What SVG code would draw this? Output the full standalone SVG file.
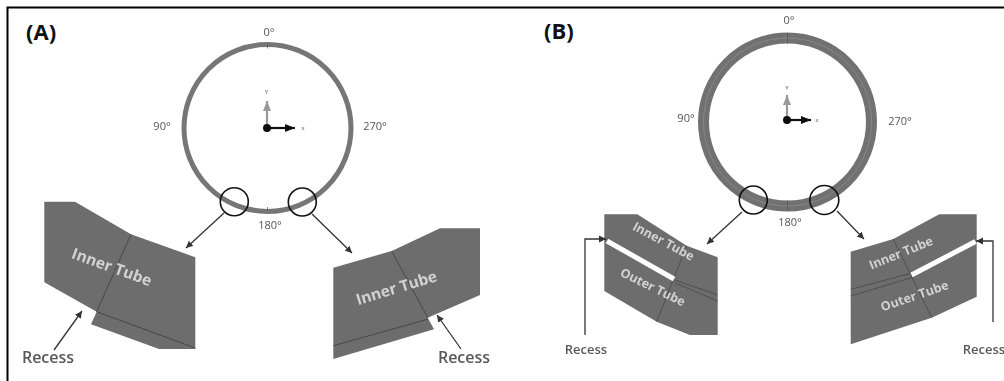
<svg xmlns="http://www.w3.org/2000/svg" width="1004" height="381" viewBox="0 0 1004 381">
<style>
.t{font-family:"Open Sans","Liberation Sans",sans-serif;fill:#555}
.d{font-size:11px;text-anchor:middle}
.r{font-family:"Open Sans","Liberation Sans",sans-serif;font-weight:600;text-anchor:middle;fill:#585858}
.h{font-family:"Open Sans","Liberation Sans",sans-serif;font-size:22px;font-weight:700;fill:#111}
.w{font-family:"Open Sans","Liberation Sans",sans-serif;font-weight:700;fill:#d2d2d2;text-anchor:middle}
.p{fill:#6d6d6d}
.l{stroke:#484848;stroke-width:1;fill:none}
.c{fill:none;stroke:#111;stroke-width:1.6}
.a{stroke:#333;stroke-width:1.3;fill:none}
.sl{stroke:#fff;stroke-width:5;fill:none}
.b{filter:url(#soft)}
</style>
<defs>
<filter id="soft" x="-5%" y="-5%" width="110%" height="110%"><feGaussianBlur stdDeviation="0.45"/></filter>
<marker id="ah" markerUnits="userSpaceOnUse" markerWidth="8" markerHeight="8" refX="7" refY="4" orient="auto"><path d="M0,0.5 L7,4 L0,7.5 Z" fill="#333"/></marker>
<marker id="ax" markerUnits="userSpaceOnUse" markerWidth="11" markerHeight="10" refX="10" refY="5" orient="auto"><path d="M0,1 L10,5 L0,9 Z" fill="#111"/></marker>
<marker id="ay" markerUnits="userSpaceOnUse" markerWidth="11" markerHeight="10" refX="10" refY="5" orient="auto"><path d="M0,1 L10,5 L0,9 Z" fill="#999"/></marker>
</defs>
<rect width="1004" height="381" fill="#fff"/>
<path d="M7.5,381 V7.5 H1004" fill="none" stroke="#000" stroke-width="2"/>
<text class="h" x="26" y="40">(A)</text>
<text class="h" x="544" y="39">(B)</text>
<g id="ring-a" class="b">
<circle cx="267.5" cy="128" r="83.5" fill="none" stroke="#767676" stroke-width="5"/>
<path d="M267.5,44.5 v4 M267.5,207 v4" stroke="#555" stroke-width="0.7"/>
<text class="t d" x="269" y="36">0°</text><text class="t d" x="162" y="130">90°</text><text class="t d" x="375" y="130">270°</text><text class="t d" x="270" y="229">180°</text>
<line x1="267" y1="128" x2="267" y2="101" stroke="#999" stroke-width="2.2" marker-end="url(#ay)"/>
<line x1="267" y1="128" x2="295" y2="128" stroke="#111" stroke-width="2.2" marker-end="url(#ax)"/>
<circle cx="267" cy="128" r="4" fill="#111"/>
<text class="t" x="266.5" y="94" font-size="6" text-anchor="middle">Y</text><text class="t" x="303" y="130" font-size="6" text-anchor="middle">x</text>
</g>
<g id="ring-b" class="b">
<circle cx="787.5" cy="122" r="84" fill="none" stroke="#717171" stroke-width="11"/>
<circle cx="787.5" cy="122" r="84" fill="none" stroke="#8a8a8a" stroke-width="0.8"/>
<path d="M787.5,33 v11 M787.5,200 v11" stroke="#555" stroke-width="0.7"/>
<text class="t d" x="789" y="24">0°</text><text class="t d" x="686" y="122">90°</text><text class="t d" x="900" y="125">270°</text><text class="t d" x="790" y="226">180°</text>
<line x1="787" y1="120" x2="787" y2="95" stroke="#999" stroke-width="2.2" marker-end="url(#ay)"/>
<line x1="787" y1="120" x2="811" y2="120" stroke="#111" stroke-width="2.2" marker-end="url(#ax)"/>
<circle cx="787" cy="120" r="4" fill="#111"/>
<text class="t" x="787" y="90" font-size="6" text-anchor="middle">Y</text><text class="t" x="817" y="122" font-size="6" text-anchor="middle">x</text>
</g>
<g id="panel-a-left" class="b">
<path class="p" d="M44.3,201.7 H75 L131,234.3 L195.3,257.3 V349 H159 L91,324.3 L96.7,311.7 L44.3,282.3 Z"/>
<path class="l" d="M131,234.3 L96.7,311.7 L195.3,348"/>
<text class="w" font-size="15.5" transform="translate(110,272) rotate(20)">Inner Tube</text>
</g>
<g id="panel-a-right" class="b">
<path class="p" d="M333.3,267.7 L391.7,251 L440,228.3 H480 V295 L427.7,317.7 L434,329.3 L333.3,359 Z"/>
<path class="l" d="M391.7,251 L427.7,317.7 M333.3,345.7 L427.7,319.3"/>
<text class="w" font-size="15.5" transform="translate(398,293) rotate(-17)">Inner Tube</text>
</g>
<g id="panel-b-left" class="b">
<path class="p" d="M604.3,214.3 H637.3 L686.7,245.7 L717.7,257.3 V335 H690 L656.7,321.7 L604.3,291 Z"/>
<path class="l" d="M686.7,245.7 L656.7,321.7 M675,280 L717.7,295 M675,283 L717.7,301" stroke-opacity="0.8"/>
<path class="sl" d="M607,241 L674,279"/>
<text class="w" font-size="12.5" transform="translate(661.5,245) rotate(28)">Inner Tube</text>
<text class="w" font-size="12.5" transform="translate(651,291) rotate(26)">Outer Tube</text>
</g>
<g id="panel-b-right" class="b">
<path class="p" d="M850.7,251.7 L893.3,239 L939.3,214.3 H976.7 V296.7 L931.7,317.7 L850.7,344.3 Z"/>
<path class="l" d="M893.3,239 L931.7,317.7 M850.7,289.3 L910,273.5 M850.7,296 L912,277.5" stroke-opacity="0.8"/>
<path class="sl" d="M975.5,241.5 L911.5,275"/>
<text class="w" font-size="12.5" transform="translate(902.5,257) rotate(-22)">Inner Tube</text>
<text class="w" font-size="12.5" transform="translate(916,300) rotate(-19)">Outer Tube</text>
</g>
<g id="connectors">
<circle class="c" cx="234.3" cy="201.7" r="14"/><circle class="c" cx="302.3" cy="202" r="14"/>
<circle class="c" cx="753.3" cy="200" r="14"/><circle class="c" cx="824.3" cy="200" r="14.5"/>
<line class="a" x1="224" y1="213" x2="186" y2="248" marker-end="url(#ah)"/>
<line class="a" x1="312" y1="214" x2="352" y2="253" marker-end="url(#ah)"/>
<line class="a" x1="54" y1="350" x2="82" y2="311" marker-end="url(#ah)"/>
<line class="a" x1="461" y1="349" x2="437" y2="315" marker-end="url(#ah)"/>
<line class="a" x1="742" y1="212" x2="707" y2="244" marker-end="url(#ah)"/>
<line class="a" x1="837" y1="211" x2="864" y2="239" marker-end="url(#ah)"/>
<polyline class="a" points="585,335 585,239 606,239" marker-end="url(#ah)"/>
<polyline class="a" points="993,322 993,241 976,241" marker-end="url(#ah)"/>
</g>
<text class="r b" x="48" y="363" font-size="16">Recess</text>
<text class="r b" x="464" y="363" font-size="16">Recess</text>
<text class="r b" x="586" y="354" font-size="13">Recess</text>
<text class="r b" x="984" y="354" font-size="13">Recess</text>
</svg>
